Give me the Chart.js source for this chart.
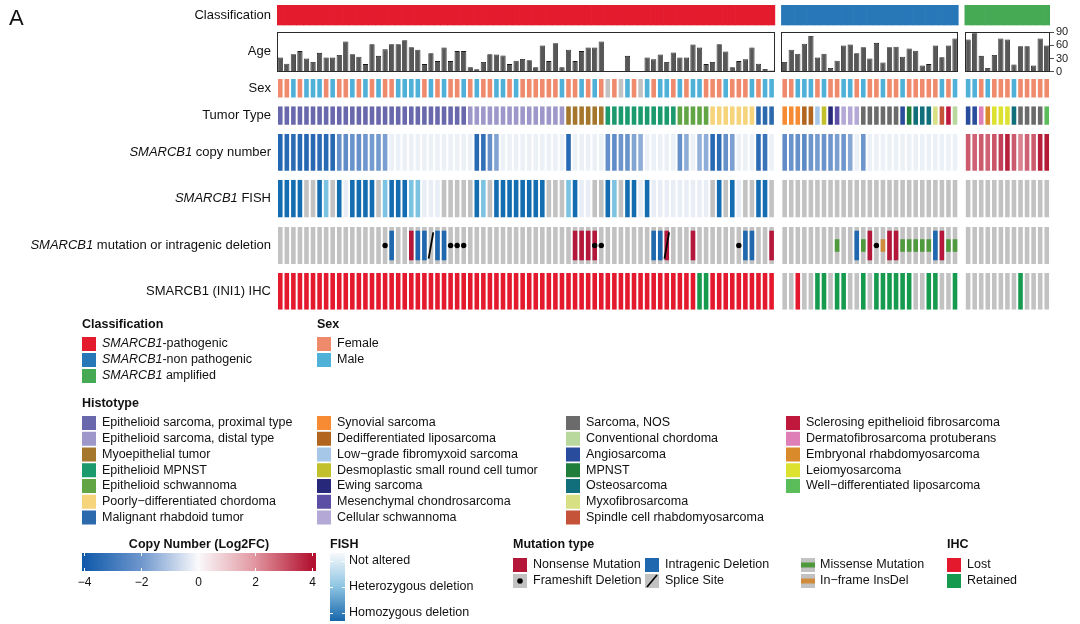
<!DOCTYPE html>
<html>
<head>
<meta charset="utf-8">
<script src="https://cdn.jsdelivr.net/npm/chart.js@4.4.1/dist/chart.umd.min.js"></script>
<style>
  html, body { margin: 0; padding: 0; background: #fff; }
  canvas { display: block; }
</style>
</head>
<body>
<canvas id="oncoprint" width="1080" height="624"></canvas>
<script>
// ---------------- data ----------------
const groupSizes = [76, 27, 13];
const classNames = ["SMARCB1-pathogenic", "SMARCB1-non pathogenic", "SMARCB1 amplified"];

const ageValues = [
  // SMARCB1-pathogenic
  32, 18, 40, 47, 30, 22, 43, 32, 32, 38,
  69, 40, 34, 17, 63, 36, 51, 63, 63, 72,
  56, 50, 17, 42, 24, 55, 24, 47, 47, 10,
  5, 22, 40, 39, 37, 17, 25, 29, 26, 10,
  60, 24, 65, 10, 50, 24, 47, 55, 55, 69,
  null, null, null, 36, null, null, 32, 28, 39, 22,
  44, 32, 32, 62, 55, 17, 22, 63, 46, 10,
  24, 28, 55, 18, 6, 2,
  // non pathogenic
  22, 50, 41, 64, 82, 32, 41, 8, 25, 60,
  62, 42, 56, 30, 66, 21, 56, 57, 34, 53,
  48, 14, 17, 60, 33, 60, 76,
  // amplified
  74, 88, 36, 8, 38, 76, 74, 16, 58, 58, 14, 76, 60
];

const sexValues = [
  "F","F","M","F","M","M","M","F","M","F",
  "F","M","F","M","F","M","F","F","M","M",
  "M","M","F","M","F","M","F","F","M","F",
  "M","F","F","M","M","F","M","F","F","F",
  "F","F","F","M","F","F","M","F","M","F",
  "NA","F","NA","M","F","NA","M","F","M","M",
  "F","M","F","M","M","F","F","F","M","F",
  "F","F","M","F","M","M",
  "F","F","M","M","M","F","M","F","F","M",
  "M","F","M","F","F","M","F","F","M","F",
  "F","F","F","F","M","F","M",
  "M","M","F","M","F","F","F","M","F","F","F","F","F"
];

const tumorType = [
  "ESp","ESp","ESp","ESp","ESp","ESp","ESp","ESp","ESp","ESp",
  "ESp","ESp","ESp","ESp","ESp","ESp","ESp","ESp","ESp","ESp",
  "ESp","ESp","ESp","ESp","ESp","ESp","ESp","ESp","ESp","ESd",
  "ESd","ESd","ESd","ESd","ESd","ESd","ESd","ESd","ESd","ESd",
  "ESd","ESd","ESd","ESd","MYO","MYO","MYO","MYO","MYO","MYO",
  "EMPNST","EMPNST","EMPNST","EMPNST","EMPNST","EMPNST","EMPNST","EMPNST","EMPNST","EMPNST",
  "EMPNST","ESCH","ESCH","ESCH","ESCH","ESCH","PDC","PDC","PDC","PDC",
  "PDC","PDC","PDC","MRT","MRT","MRT",
  "SYN","SYN","SYN","DDL","DDL","LGFMS","DSRCT","EWS","MCS","CS",
  "CS","CS","NOS","NOS","NOS","NOS","NOS","NOS","ANG","MPNST",
  "OS","OS","OS","MFS","SRMS","SEF","CCH",
  "ANG","ANG","DFSP","ERMS","LMS","LMS","LMS","OS","NOS","NOS","NOS","NOS","WDL"
];

// SMARCB1 copy number, log2 fold change
const copyNumber = [
  -3.6, -3.5, -3.4, -3.5, -3.6, -3.5, -3.4, -3.5, -3.5, -2.2,
  -2.3, -2.1, -2.2, -2.0, -1.9, -1.9, -1.8, 0, 0, 0,
  0, 0, 0, 0, 0, 0, 0, 0, 0, 0,
  -3.5, -3.3, -2.2, -1.7, 0, 0, 0, 0, 0, 0,
  0, 0, 0, 0, -3.5, 0, 0, 0, 0, 0,
  -2.2, -2.3, -2.0, -2.1, -1.7, -1.5, 0, 0, 0, 0,
  0, -2.2, -1.5, 0, -1.4, -1.5, -3.5, -3.4, -2.2, -1.8,
  0, 0, 0, -3.4, -3.1, 0,
  -2.3, -2.1, -2.2, -2.4, -2.0, -1.9, -2.1, -2.0, -1.8, -2.0,
  -1.6, 0, -2.0, 0, 0, 0, 0, 0, 0, 0,
  0, 0, 0, 0, 0, 0, 0,
  2.9, 2.8, 2.9, 2.8, 3.0, 3.3, 3.8, 2.9, 2.3, 2.8, 2.9, 3.8, 3.9
];

// FISH: HOM homozygous deletion, HET heterozygous deletion, NOT not altered, NA not done
const fishStatus = [
  "HOM","HOM","HOM","HOM","NA","NA","HOM","HET","NA","HOM",
  "NOT","HOM","HOM","HOM","HOM","NA","HET","HOM","HOM","HOM",
  "HET","HET","NOT","NOT","NOT","NA","NA","NA","NA","NA",
  "HOM","HET","NA","HOM","HOM","HOM","HOM","HOM","HOM","HOM",
  "HOM","NA","NA","NA","HET","HOM","NOT","NOT","NA","NA",
  "HOM","HET","NA","HOM","HOM","NOT","HOM","NOT","NOT","NOT",
  "NOT","NOT","NOT","NOT","NOT","NOT","NA","HOM","NA","HOM",
  "NOT","NA","NA","HOM","HOM","NA",
  "NA","NA","NA","NA","NA","NA","NA","NA","NA","NA",
  "NA","NA","NA","NA","NA","NA","NA","NA","NA","NA",
  "NA","NA","NA","NA","NA","NA","NA",
  "NA","NA","NA","NA","NA","NA","NA","NA","NA","NA","NA","NA","NA"
];

// mutation: NON nonsense, DEL intragenic deletion, MIS missense, INF in-frame InsDel
const mutationMain = [
  "","","","","","","","","","",
  "","","","","","","","DEL","","",
  "NON","DEL","DEL","","DEL","DEL","","","","",
  "","","","","","","","","","",
  "","","","","","NON","NON","NON","NON","",
  "","","","","","","","DEL","DEL","NON",
  "","","","NON","","","","","","",
  "","DEL","DEL","","","NON",
  "","","","","","","","","MIS","",
  "","DEL","MIS","NON","","INF","NON","NON","MIS","MIS",
  "MIS","MIS","MIS","DEL","NON","MIS","MIS",
  "","","","","","","","","","","","",""
];
// FS frameshift deletion, SP splice site
const mutationMark = [
  "","","","","","","","","","",
  "","","","","","","FS","","","",
  "","","","SP","","","FS","FS","FS","",
  "","","","","","","","","","",
  "","","","","","","","","FS","FS",
  "","","","","","","","","","SP",
  "","","","","","","","","","",
  "FS","","","","","",
  "","","","","","","","","","",
  "","","","","FS","","","","","",
  "","","","","","","",
  "","","","","","","","","","","","",""
];

// IHC: LOST, RET retained, NA
const ihcStatus = [
  "LOST","LOST","LOST","LOST","LOST","LOST","LOST","LOST","LOST","LOST",
  "LOST","LOST","LOST","LOST","LOST","LOST","LOST","LOST","LOST","LOST",
  "LOST","LOST","LOST","LOST","LOST","LOST","LOST","LOST","LOST","LOST",
  "LOST","LOST","LOST","LOST","LOST","LOST","LOST","LOST","LOST","LOST",
  "LOST","LOST","LOST","LOST","LOST","LOST","LOST","LOST","LOST","LOST",
  "LOST","LOST","LOST","LOST","LOST","LOST","LOST","LOST","LOST","LOST",
  "LOST","LOST","LOST","LOST","RET","RET","LOST","LOST","LOST","LOST",
  "LOST","LOST","LOST","LOST","LOST","LOST",
  "NA","NA","LOST","NA","NA","RET","RET","NA","RET","RET",
  "NA","NA","RET","NA","RET","RET","RET","RET","RET","RET",
  "NA","NA","RET","RET","NA","NA","RET",
  "NA","NA","NA","NA","NA","NA","NA","NA","RET","NA","NA","NA","NA"
];

const ageTicks = [0, 30, 60, 90];
const copyTicks = [-4, -2, 0, 2, 4];

const histotypes = [
  ["ESp", "Epithelioid sarcoma, proximal type"],
  ["ESd", "Epithelioid sarcoma, distal type"],
  ["MYO", "Myoepithelial tumor"],
  ["EMPNST", "Epithelioid MPNST"],
  ["ESCH", "Epithelioid schwannoma"],
  ["PDC", "Poorly\u2212differentiated chordoma"],
  ["MRT", "Malignant rhabdoid tumor"],
  ["SYN", "Synovial sarcoma"],
  ["DDL", "Dedifferentiated liposarcoma"],
  ["LGFMS", "Low\u2212grade fibromyxoid sarcoma"],
  ["DSRCT", "Desmoplastic small round cell tumor"],
  ["EWS", "Ewing sarcoma"],
  ["MCS", "Mesenchymal chondrosarcoma"],
  ["CS", "Cellular schwannoma"],
  ["NOS", "Sarcoma, NOS"],
  ["CCH", "Conventional chordoma"],
  ["ANG", "Angiosarcoma"],
  ["MPNST", "MPNST"],
  ["OS", "Osteosarcoma"],
  ["MFS", "Myxofibrosarcoma"],
  ["SRMS", "Spindle cell rhabdomyosarcoma"],
  ["SEF", "Sclerosing epithelioid fibrosarcoma"],
  ["DFSP", "Dermatofibrosarcoma protuberans"],
  ["ERMS", "Embryonal rhabdomyosarcoma"],
  ["LMS", "Leiomyosarcoma"],
  ["WDL", "Well\u2212differentiated liposarcoma"]
];

// ---------------- styles ----------------
const FONT = '"Liberation Sans", Arial, Helvetica, sans-serif';
const GRAY = "#c2c2c2";
const classColors = ["#e31b2d", "#2878b8", "#46a954"];
const sexColors = { F: "#f08a6c", M: "#4fb0d8", NA: GRAY };
const tumorColors = {
  ESp: "#6a68ac", ESd: "#9d98c9", MYO: "#a5772c", EMPNST: "#1b9a6e", ESCH: "#62a545",
  PDC: "#f6d47c", MRT: "#2d6aad", SYN: "#f68b33", DDL: "#b2651f", LGFMS: "#a6c7e8",
  DSRCT: "#c2c02c", EWS: "#27287a", MCS: "#5b4ea4", CS: "#b3a8d6", NOS: "#6b6b6b",
  CCH: "#b8d89e", ANG: "#2a4c9c", MPNST: "#1f7e3c", OS: "#106f7a", MFS: "#d8e084",
  SRMS: "#c4533a", SEF: "#c0173d", DFSP: "#df7fb8", ERMS: "#d98a2a", LMS: "#dde130",
  WDL: "#5bbd5a"
};
const fishColors = { HOM: "#146db0", HET: "#7cc3e1", NOT: "#e9eef6", NA: GRAY };
const mutColors = { NON: "#b5173b", DEL: "#1f68b0", MIS: "#4e9a3c", INF: "#d08c3c" };
const ihcColors = { LOST: "#e5192d", RET: "#159a4e", NA: GRAY };
const copyStops = [
  [-4, [16, 90, 170]], [-2, [110, 150, 205]], [0, [236, 240, 247]],
  [2, [225, 150, 160]], [4, [178, 18, 48]]
];

function copyColor(v) {
  const c = Math.max(-4, Math.min(4, v));
  for (let k = 0; k < copyStops.length - 1; k++) {
    const [a, ca] = copyStops[k];
    const [b, cb] = copyStops[k + 1];
    if (c <= b) {
      const t = (c - a) / (b - a);
      return "rgb(" + ca.map((u, j) => Math.round(u + (cb[j] - u) * t)).join(",") + ")";
    }
  }
}

// ---------------- columns ----------------
const columns = [];
let pIndex = 0;
groupSizes.forEach((size, g) => {
  if (g > 0) columns.push(null); // spacer between classification groups
  for (let k = 0; k < size; k++) columns.push({ patient: pIndex++, group: g });
});
const labels = columns.map((c, i) => c ? "P" + (c.patient + 1) : "gap" + i);
const perColumn = fn => columns.map(c => c ? fn(c.patient, c.group) : null);

// row slots (px): cell height and room it takes in the stack
const rowLayout = [
  { id: "yClass", cell: 20, slot: 27 },
  { id: "yAge", slot: 47 },
  { id: "ySex", cell: 18.5, slot: 27.3 },
  { id: "yTumor", cell: 18.5, slot: 27.7 },
  { id: "yCopy", cell: 36.7, slot: 45.7 },
  { id: "yFish", cell: 37.6, slot: 47.3 },
  { id: "yMut", cell: 37, slot: 46 },
  { id: "yIhc", cell: 36.7, slot: 36.7 }
];
const AXIS_WIDTH = 30;

function cellDataset(axis, colorOf, extra) {
  return Object.assign({
    type: "bar", yAxisID: axis, grouped: false, order: 5,
    data: perColumn(() => [0, 1]),
    backgroundColor: perColumn(colorOf),
    barPercentage: 0.7, categoryPercentage: 1, borderWidth: 0
  }, extra || {});
}

const datasets = [
  cellDataset("yClass", (i, g) => classColors[g], { barPercentage: 1 }),
  {
    type: "bar", yAxisID: "yAge", grouped: false, order: 5,
    data: perColumn(i => ageValues[i]),
    backgroundColor: "#575757", borderColor: "#1a1a1a", borderWidth: 0.8,
    barPercentage: 0.8, categoryPercentage: 1
  },
  cellDataset("ySex", i => sexColors[sexValues[i]]),
  cellDataset("yTumor", i => tumorColors[tumorType[i]]),
  cellDataset("yCopy", i => copyColor(copyNumber[i])),
  cellDataset("yFish", i => fishColors[fishStatus[i]]),
  cellDataset("yMut", () => GRAY, { order: 6 }),
  {
    type: "bar", yAxisID: "yMut", grouped: false, order: 4,
    data: perColumn(i => {
      const m = mutationMain[i];
      if (m === "NON" || m === "DEL") return [0.1, 0.9];
      if (m === "MIS" || m === "INF") return [0.33, 0.67];
      return null;
    }),
    backgroundColor: perColumn(i => mutColors[mutationMain[i]] || GRAY),
    barPercentage: 0.7, categoryPercentage: 1, borderWidth: 0
  },
  {
    type: "line", yAxisID: "yMut", order: 1, showLine: false,
    data: perColumn(i => mutationMark[i] === "FS" ? 0.5 : null),
    pointRadius: 2.7, pointBackgroundColor: "#000", pointBorderWidth: 0
  },
  {
    type: "line", yAxisID: "yMut", order: 1, showLine: false,
    data: perColumn(i => mutationMark[i] === "SP" ? 0.5 : null),
    pointStyle: "line", pointRadius: 13.3, pointRotation: -80,
    pointBorderColor: "#000", pointBorderWidth: 1.8
  },
  cellDataset("yIhc", i => ihcColors[ihcStatus[i]])
];

const fixWidth = s => {
  s.width = AXIS_WIDTH;
  s.paddingTop = 0;
  s.paddingBottom = 0;
};

const scales = {
  x: { type: "category", offset: true, display: false, grid: { display: false } }
};
rowLayout.forEach((r, k) => {
  if (r.id === "yAge") {
    scales.yAge = {
      type: "linear", stack: "rows", stackWeight: r.slot, weight: k, position: "right",
      min: -17.3, max: 91,
      afterBuildTicks: s => { s.ticks = ageTicks.map(v => ({ value: v })); },
      afterFit: fixWidth,
      grid: { display: true, drawOnChartArea: false, drawTicks: true, tickLength: 4, color: "#222", lineWidth: 0.8 },
      border: { display: false },
      ticks: { autoSkip: false, font: { family: FONT, size: 11 }, color: "#222", padding: 2 }
    };
  } else {
    scales[r.id] = {
      type: "linear", stack: "rows", stackWeight: r.slot, weight: k, position: "right",
      reverse: true, min: 0, max: r.slot / r.cell, display: false,
      afterFit: fixWidth
    };
  }
});

// ---------------- text & legends ----------------
function richText(ctx, parts, x, y, align, size, weight) {
  const fontOf = it => (it ? "italic " : "") + (weight || "normal") + " " + size + "px " + FONT;
  let total = 0;
  parts.forEach(([t, it]) => { ctx.font = fontOf(it); total += ctx.measureText(t).width; });
  let cx = align === "right" ? x - total : align === "center" ? x - total / 2 : x;
  ctx.textAlign = "left";
  ctx.textBaseline = "middle";
  parts.forEach(([t, it]) => { ctx.font = fontOf(it); ctx.fillText(t, cx, y); cx += ctx.measureText(t).width; });
}

const rowTitles = {
  yClass: [["Classification"]],
  yAge: [["Age"]],
  ySex: [["Sex"]],
  yTumor: [["Tumor Type"]],
  yCopy: [["SMARCB1", true], [" copy number"]],
  yFish: [["SMARCB1", true], [" FISH"]],
  yMut: [["SMARCB1", true], [" mutation or intragenic deletion"]],
  yIhc: [["SMARCB1 (INI1) IHC"]]
};

function box(ctx, x, yc, color) {
  ctx.fillStyle = color;
  ctx.fillRect(x, yc - 7, 14, 14);
}

const decorations = {
  id: "decorations",
  afterDatasetsDraw(chart) {
    const ctx = chart.ctx;
    const xs = chart.scales.x, ya = chart.scales.yAge;
    const half = (xs.getPixelForValue(1) - xs.getPixelForValue(0)) / 2;
    const top = ya.getPixelForValue(ya.max), bottom = ya.getPixelForValue(0);
    ctx.save();
    ctx.strokeStyle = "#2a2a2a";
    ctx.lineWidth = 1;
    let start = 0;
    groupSizes.forEach((size, g) => {
      const first = start + g, last = first + size - 1;
      const l = Math.round(xs.getPixelForValue(first) - half) + 0.5;
      const r = Math.round(xs.getPixelForValue(last) + half) - 0.5;
      ctx.strokeRect(l, Math.round(top) + 0.5, r - l, Math.round(bottom - top));
      start += size;
    });
    ctx.restore();
  },
  afterDraw(chart) {
    const ctx = chart.ctx;
    ctx.save();
    ctx.fillStyle = "#111";
    ctx.font = "22px " + FONT;
    ctx.textBaseline = "middle";
    ctx.fillText("A", 9, 19);

    // row titles
    Object.keys(rowTitles).forEach(id => {
      const s = chart.scales[id];
      const y = id === "yAge" ? (s.getPixelForValue(0) + s.getPixelForValue(s.max)) / 2 : s.getPixelForValue(0.5);
      ctx.fillStyle = "#111";
      richText(ctx, rowTitles[id], 271, y, "right", 13);
    });

    const fs = 12.5;
    const title = (t, x, y, align) => { ctx.fillStyle = "#111"; richText(ctx, [[t]], x, y, align || "left", fs, "bold"); };
    const item = (parts, x, y) => { ctx.fillStyle = "#111"; richText(ctx, parts, x, y, "left", fs); };

    // Classification
    title("Classification", 82, 325);
    const classParts = [
      [["SMARCB1", true], ["-pathogenic"]],
      [["SMARCB1", true], ["-non pathogenic"]],
      [["SMARCB1", true], [" amplified"]]
    ];
    classParts.forEach((parts, k) => {
      const y = 344 + 16 * k;
      box(ctx, 82, y, classColors[k]);
      item(parts, 102, y);
    });

    // Sex
    title("Sex", 317, 325);
    [["F", "Female"], ["M", "Male"]].forEach(([code, name], k) => {
      const y = 344 + 16 * k;
      box(ctx, 317, y, sexColors[code]);
      item([[name]], 337, y);
    });

    // Histotype
    title("Histotype", 82, 404);
    const colX = [82, 317, 566, 786];
    histotypes.forEach(([code, name], k) => {
      const c = Math.floor(k / 7), r = k % 7;
      const y = 423 + 15.75 * r;
      box(ctx, colX[c], y, tumorColors[code]);
      item([[name]], colX[c] + 20, y);
    });

    // Copy number colour bar
    title("Copy Number (Log2FC)", 199, 545, "center");
    const cx0 = 84, cx1 = 312;
    const grad = ctx.createLinearGradient(cx0, 0, cx1, 0);
    copyStops.forEach(([v, c]) => grad.addColorStop((v + 4) / 8, "rgb(" + (v === 0 ? "250,250,252" : c.join(",")) + ")"));
    ctx.fillStyle = grad;
    ctx.fillRect(82, 553, 234, 18);
    ctx.strokeStyle = "#fff";
    ctx.lineWidth = 1;
    copyTicks.forEach(v => {
      const x = Math.round(cx0 + (v + 4) / 8 * (cx1 - cx0)) + 0.5;
      ctx.beginPath();
      ctx.moveTo(x, 553); ctx.lineTo(x, 556);
      ctx.moveTo(x, 568); ctx.lineTo(x, 571);
      ctx.stroke();
      ctx.fillStyle = "#111";
      richText(ctx, [[v < 0 ? "\u2212" + Math.abs(v) : String(v)]], x, 583, "center", 12);
    });

    // FISH colour bar
    title("FISH", 330, 545);
    const fg = ctx.createLinearGradient(0, 553, 0, 621);
    fg.addColorStop(0, "#f7f9fc");
    fg.addColorStop(0.5, "#8cc4e2");
    fg.addColorStop(1, "#1766ab");
    ctx.fillStyle = fg;
    ctx.fillRect(330, 553, 15, 68);
    [["Not altered", 561], ["Heterozygous deletion", 587], ["Homozygous deletion", 613]].forEach(([t, y]) => {
      ctx.strokeStyle = "#fff";
      ctx.beginPath();
      ctx.moveTo(330, y + 0.5); ctx.lineTo(333, y + 0.5);
      ctx.moveTo(342, y + 0.5); ctx.lineTo(345, y + 0.5);
      ctx.stroke();
      item([[t]], 349, y);
    });

    // Mutation type
    title("Mutation type", 513, 545);
    const mx = [513, 645, 801], my = [565, 581];
    box(ctx, mx[0], my[0], mutColors.NON);
    item([["Nonsense Mutation"]], mx[0] + 20, my[0]);
    box(ctx, mx[1], my[0], mutColors.DEL);
    item([["Intragenic Deletion"]], mx[1] + 20, my[0]);
    box(ctx, mx[2], my[0], GRAY);
    ctx.fillStyle = mutColors.MIS;
    ctx.fillRect(mx[2], my[0] - 2.5, 14, 5);
    item([["Missense Mutation"]], mx[2] + 19, my[0]);
    box(ctx, mx[0], my[1], GRAY);
    ctx.fillStyle = "#000";
    ctx.beginPath();
    ctx.arc(mx[0] + 7, my[1], 2.8, 0, Math.PI * 2);
    ctx.fill();
    item([["Frameshift Deletion"]], mx[0] + 20, my[1]);
    box(ctx, mx[1], my[1], GRAY);
    ctx.strokeStyle = "#000";
    ctx.lineWidth = 1.6;
    ctx.beginPath();
    ctx.moveTo(mx[1] + 2, my[1] + 6); ctx.lineTo(mx[1] + 12, my[1] - 6);
    ctx.stroke();
    item([["Splice Site"]], mx[1] + 20, my[1]);
    box(ctx, mx[2], my[1], GRAY);
    ctx.fillStyle = mutColors.INF;
    ctx.fillRect(mx[2], my[1] - 2.5, 14, 5);
    item([["In\u2212frame InsDel"]], mx[2] + 19, my[1]);

    // IHC
    title("IHC", 947, 545);
    box(ctx, 947, 565, ihcColors.LOST);
    item([["Lost"]], 967, 565);
    box(ctx, 947, 581, ihcColors.RET);
    item([["Retained"]], 967, 581);
    ctx.restore();
  }
};

new Chart(document.getElementById("oncoprint").getContext("2d"), {
  type: "bar",
  data: { labels: labels, datasets: datasets },
  options: {
    responsive: false,
    animation: false,
    devicePixelRatio: 1,
    events: [],
    layout: { autoPadding: false, padding: { left: 277, right: 0, top: 5, bottom: 314.3 } },
    plugins: { legend: { display: false }, tooltip: { enabled: false } },
    scales: scales
  },
  plugins: [decorations]
});
</script>
</body>
</html>
